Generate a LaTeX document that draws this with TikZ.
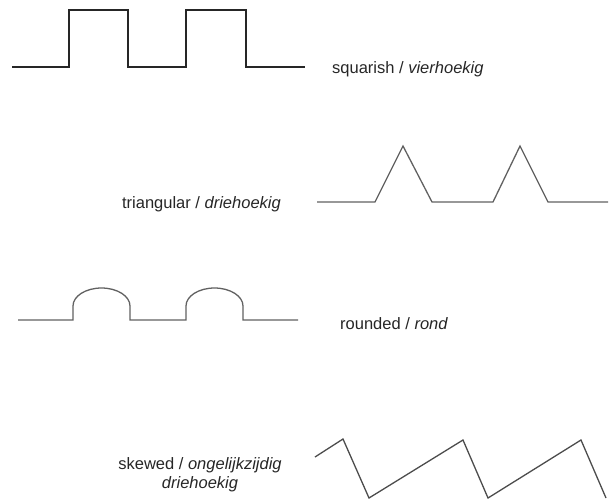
\documentclass[tikz,border=0pt]{standalone}
\usepackage{fontspec}
\setmainfont{Liberation Sans}
\begin{document}
\begin{tikzpicture}[x=1pt,y=1pt,
  wave/.style={line width=1.3pt,line join=miter},
  lbl/.style={inner sep=0pt,font=\fontsize{16.5}{19}\selectfont,text=black!85}]
\useasboundingbox (0,0) rectangle (611,-499);
% squarish
\draw[wave,black!85] (12,-67) -- (69,-67) -- (69,-10) -- (128,-10) -- (128,-67) -- (186,-67) -- (186,-10) -- (246,-10) -- (246,-67) -- (305,-67);
\node[lbl,anchor=west] (sq) at (332,-69) {squarish / \textit{vierhoekig}};
% triangular
\draw[wave,black!62] (317,-202) -- (375,-202) -- (403,-146) -- (432,-202) -- (493,-202) -- (520,-146) -- (548,-202) -- (608,-202);
\node[lbl,anchor=east] (tr) at (281,-204) {triangular / \textit{driehoekig}};
% rounded
\draw[wave,black!62] (18,-320) -- (73,-320) -- (73,-306) arc[start angle=180,end angle=0,x radius=28.5pt,y radius=18pt] -- (130,-320) -- (186,-320) -- (186,-306) arc[start angle=180,end angle=0,x radius=28.5pt,y radius=18pt] -- (243,-320) -- (298,-320);
\node[lbl,anchor=west] (ro) at (340,-324) {rounded / \textit{rond}};
% skewed
\draw[wave,black!70] (315,-457) -- (343,-439) -- (369,-498) -- (463,-440) -- (488,-498) -- (581,-440) -- (606,-498);
\node[lbl,align=center] (sk) at (200,-475) {skewed / \textit{ongelijkzijdig}\\\textit{driehoekig}};
\end{tikzpicture}
\end{document}
